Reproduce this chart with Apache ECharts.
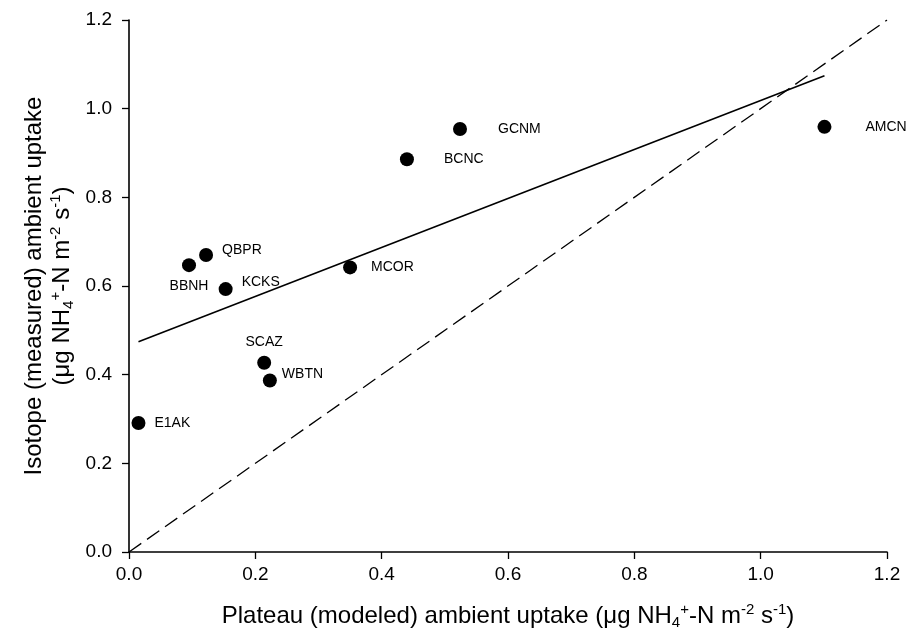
<!DOCTYPE html>
<html>
<head>
<meta charset="utf-8">
<script src="https://cdn.jsdelivr.net/npm/echarts@6/dist/echarts.min.js"></script>
<style>html,body{margin:0;padding:0;background:#fff;}#c{width:918px;height:629px;}</style>
</head>
<body>
<div id="c"></div>
<script>
// ---- data ----
const sites = ['E1AK', 'BBNH', 'QBPR', 'KCKS', 'SCAZ', 'WBTN', 'MCOR', 'BCNC', 'GCNM', 'AMCN'];
const plateauX = [0.015, 0.095, 0.122, 0.153, 0.214, 0.223, 0.350, 0.440, 0.524, 1.101];
const isotopeY = [0.291, 0.647, 0.670, 0.593, 0.427, 0.387, 0.642, 0.886, 0.954, 0.959];
const regressionX = [0.015, 1.101];
const regressionY = [0.474, 1.074];
const oneToOneX = [0, 1.2];
const oneToOneY = [0, 1.2];
const axisTicks = [0, 0.2, 0.4, 0.6, 0.8, 1.0, 1.2];

// ---- styling ----
const FONT = 'Arial, "Liberation Sans", sans-serif';
const labelStyle = {
  E1AK: {position: 'right', distance: 9,  offset: [0, 0]},
  BBNH: {position: 'bottom', distance: 7, offset: [0, 0]},
  QBPR: {position: 'right', distance: 9,  offset: [0, -5]},
  KCKS: {position: 'right', distance: 9,  offset: [0, -7]},
  SCAZ: {position: 'top', distance: 7,    offset: [0, 0]},
  WBTN: {position: 'right', distance: 5,  offset: [0, -6]},
  MCOR: {position: 'right', distance: 14, offset: [0, 0]},
  BCNC: {position: 'right', distance: 30, offset: [0, 0]},
  GCNM: {position: 'right', distance: 31, offset: [0, 0]},
  AMCN: {position: 'right', distance: 34, offset: [0, 0]}
};

const scatterData = sites.map((s, i) => ({
  name: s,
  value: [plateauX[i], isotopeY[i]],
  label: Object.assign({show: true, formatter: s, color: '#000', fontSize: 14, fontFamily: FONT}, labelStyle[s])
}));

const supStyle = {fontSize: 15, fontFamily: FONT, color: '#000', verticalAlign: 'top', lineHeight: 15};
const subStyle = {fontSize: 15, fontFamily: FONT, color: '#000', verticalAlign: 'bottom', lineHeight: 15};
const tStyle = {fontSize: 24, fontFamily: FONT, color: '#000', lineHeight: 28};

const axisCommon = {
  type: 'value', min: 0, max: 1.2, interval: 0.2,
  axisLine: {show: true, onZero: false, lineStyle: {color: '#000', width: 1.6}},
  axisTick: {show: true, length: 7, inside: false, lineStyle: {color: '#000', width: 1.3}},
  splitLine: {show: false},
  nameLocation: 'middle',
  nameMoveOverlap: false
};

const option = {
  animation: false,
  backgroundColor: '#fff',
  grid: {left: 129, right: 31, top: 20, bottom: 77, containLabel: false, outerBoundsMode: 'none'},
  xAxis: Object.assign({}, axisCommon, {
    axisLabel: {margin: 13, fontSize: 19, fontFamily: FONT, color: '#000',
      formatter: v => axisTicks.includes(+v.toFixed(1)) ? v.toFixed(1) : ''},
    name: '{t|Plateau (modeled) ambient uptake (μg NH}{sub|4}{sup|+}{t|-N m}{sup|-2}{t| s}{sup|-1}{t|)}',
    nameGap: 50,
    nameTextStyle: {rich: {t: tStyle, sup: supStyle, sub: subStyle}}
  }),
  yAxis: Object.assign({}, axisCommon, {
    axisLabel: {margin: 17, fontSize: 19, fontFamily: FONT, color: '#000',
      formatter: v => axisTicks.includes(+v.toFixed(1)) ? v.toFixed(1) : ''},
    name: '{t|Isotope (measured) ambient uptake}\n{t|(μg NH}{sub|4}{sup|+}{t|-N m}{sup|-2}{t| s}{sup|-1}{t|)}',
    nameGap: 53,
    nameTextStyle: {align: 'center', rich: {t: tStyle, sup: supStyle, sub: subStyle}}
  }),
  series: [
    {
      type: 'line', name: '1:1',
      data: oneToOneX.map((x, i) => [x, oneToOneY[i]]),
      showSymbol: false, symbol: 'none', silent: true,
      lineStyle: {color: '#000', width: 1.3, type: [15, 7]}
    },
    {
      type: 'line', name: 'regression',
      data: regressionX.map((x, i) => [x, regressionY[i]]),
      showSymbol: false, symbol: 'none', silent: true,
      lineStyle: {color: '#000', width: 1.6}
    },
    {
      type: 'scatter', name: 'sites',
      data: scatterData,
      symbol: 'circle', symbolSize: 14,
      itemStyle: {color: '#000', opacity: 1},
      z: 5
    }
  ]
};

const chart = echarts.init(document.getElementById('c'), null, {renderer: 'canvas'});
chart.setOption(option);
</script>
</body>
</html>
